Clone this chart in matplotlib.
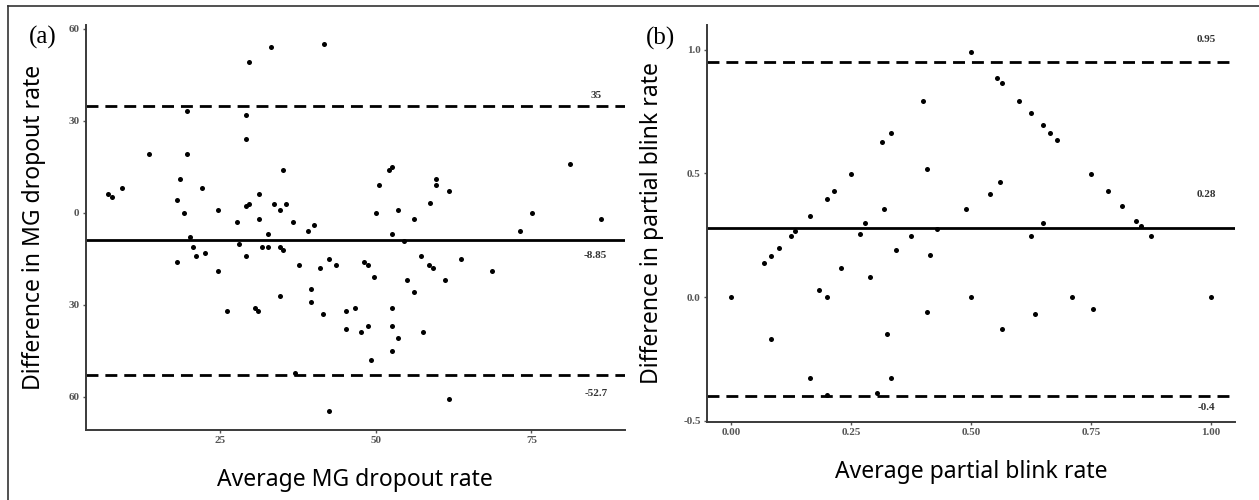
import matplotlib
matplotlib.use("Agg")
import matplotlib.pyplot as plt
from matplotlib.lines import Line2D

# ---------------- data: panel (a) ----------------
a_avg = [33.2, 29.7, 41.7, 19.7, 29.2, 29.2, 13.7, 19.7, 35.2, 18.7,
         7.1, 7.7, 9.3, 22.2, 31.3, 18.2, 19.2, 24.7, 29.2, 29.7,
         33.7, 35.7, 34.7, 27.7, 31.3, 36.7, 39.2, 40.1, 20.2, 32.7,
         28.1, 20.7, 31.7, 32.7, 21.2, 22.7, 18.2, 24.7, 29.2, 34.7,
         35.1, 37.7, 41.0, 42.6, 43.6, 48.1, 48.7, 49.7, 34.7, 39.7,
         39.7, 41.6, 26.2, 30.7, 31.2, 45.2, 46.7, 45.2, 47.6, 48.7,
         52.6, 52.6, 53.6, 57.6, 52.7, 49.2, 50.1, 50.6, 52.1, 52.7,
         53.6, 52.6, 54.6, 56.1, 57.2, 55.1, 56.2, 58.7, 59.7, 59.7,
         58.6, 59.2, 61.7, 81.1, 75.1, 73.1, 86.1, 63.7, 61.1, 68.6,
         61.7, 42.6, 37.0]
a_diff = [54.2, 49.1, 55.1, 33.2, 32.0, 24.1, 19.1, 19.1, 14.0, 11.0,
          6.2, 5.1, 8.1, 8.1, 6.2, 4.1, 0.1, 1.1, 2.1, 3.0,
          3.0, 3.0, 1.1, -2.9, -2.0, -2.9, -6.0, -4.0, -8.0, -7.0,
          -10.0, -11.0, -11.0, -11.0, -14.0, -13.0, -16.0, -19.0, -14.0, -11.0,
          -12.1, -17.0, -18.0, -15.0, -17.0, -16.0, -17.1, -21.0, -27.0, -24.9,
          -29.0, -32.9, -32.0, -30.9, -32.0, -32.0, -30.9, -37.9, -38.9, -36.9,
          -31.0, -36.9, -40.9, -38.9, -45.0, -47.9, 0.1, 9.1, 14.1, 15.1,
          1.1, -7.0, -9.0, -2.0, -14.0, -21.9, -25.9, 3.1, 11.1, 9.1,
          -17.0, -18.0, 7.1, 16.0, 0.1, -6.0, -2.0, -15.0, -21.9, -19.0,
          -60.7, -64.6, -52.1]
a_mean = -8.85
a_loa = [35, -52.7]
a_line_labels = ["35", "-8.85", "-52.7"]
a_yticks = [60, 30, 0, -30, -60]
a_yticklabels = ["60", "30", "0", "30", "60"]
a_xticks = [25, 50, 75]
a_xticklabels = ["25", "50", "75"]

# ---------------- data: panel (b) ----------------
b_avg = [0.00, 0.068, 0.084, 0.099, 0.124, 0.134, 0.164, 0.199, 0.214, 0.249,
         0.314, 0.334, 0.399, 0.409, 0.319, 0.279, 0.269, 0.374, 0.429, 0.344,
         0.414, 0.229, 0.289, 0.183, 0.199, 0.499, 0.409, 0.084, 0.324, 0.165,
         0.334, 0.304, 0.199, 0.489, 0.540, 0.561, 0.624, 0.649, 0.499, 0.554,
         0.565, 0.599, 0.624, 0.649, 0.664, 0.679, 0.750, 0.785, 0.814, 0.844,
         0.854, 0.874, 0.565, 0.634, 0.710, 0.754, 1.000]
b_diff = [0.00, 0.138, 0.168, 0.198, 0.248, 0.266, 0.327, 0.396, 0.427, 0.497,
          0.625, 0.665, 0.794, 0.516, 0.357, 0.298, 0.256, 0.248, 0.277, 0.190,
          0.169, 0.119, 0.080, 0.029, 0.00, 0.00, -0.060, -0.168, -0.149, -0.327,
          -0.327, -0.388, -0.396, 0.357, 0.417, 0.467, 0.248, 0.298, 0.992, 0.884,
          0.864, 0.794, 0.745, 0.695, 0.665, 0.636, 0.497, 0.427, 0.367, 0.306,
          0.286, 0.248, -0.129, -0.070, 0.00, -0.050, 0.00]
b_mean = 0.28
b_loa = [0.95, -0.4]
b_line_labels = ["0.95", "0.28", "-0.4"]
b_yticks = [-0.5, 0.0, 0.5, 1.0]
b_yticklabels = ["-0.5", "0.0", "0.5", "1.0"]
b_xticks = [0.00, 0.25, 0.50, 0.75, 1.00]
b_xticklabels = ["0.00", "0.25", "0.50", "0.75", "1.00"]

W, H = 1259, 500
fig = plt.figure(figsize=(W / 100, H / 100), dpi=100)
fig.patch.set_facecolor("white")

def px_rect(l, r, t, b):
    return [l / W, 1 - b / H, (r - l) / W, (b - t) / H]

axA = fig.add_axes(px_rect(85.7, 625, 25, 430))
axB = fig.add_axes(px_rect(707, 1235, 25, 422))

spine_col = "#3a3a3a"
tick_col = "#555555"
label_font = ["Noto Sans", "DejaVu Sans"]
serif = ["Liberation Serif", "DejaVu Serif"]

def style(ax):
    for s in ["top", "right"]:
        ax.spines[s].set_visible(False)
    for s in ["left", "bottom"]:
        ax.spines[s].set_color(spine_col)
        ax.spines[s].set_linewidth(1.4)
    ax.tick_params(axis="both", length=2.5, width=1.0, color=tick_col, pad=2,
                   labelcolor=tick_col)
    for lab in ax.get_xticklabels() + ax.get_yticklabels():
        lab.set_fontfamily(serif)
        lab.set_fontweight("bold")
        lab.set_fontsize(8)

dash = (4.3, 2.5)

# panel (a)
axA.scatter(a_avg, a_diff, s=13, color="black", linewidths=0, zorder=3)
axA.axhline(a_mean, color="black", lw=2.0, zorder=2)
for v in a_loa:
    axA.axhline(v, color="black", lw=2.0, dashes=dash, zorder=2)
axA.set_xlim(3.5, 90)
axA.set_ylim(-70.8, 61.3)
axA.set_xticks(a_xticks)
axA.set_xticklabels(a_xticklabels)
axA.set_yticks(a_yticks)
axA.set_yticklabels(a_yticklabels)
style(axA)
a_vals = [a_loa[0], a_mean, a_loa[1]]
a_offs = [7, -11, -13.5]
for v, t, o in zip(a_vals, a_line_labels, a_offs):
    axA.annotate(t, xy=(85.3, v), xytext=(0, o), textcoords="offset points",
                 ha="center", va="center", fontsize=8, fontweight="bold",
                 family=serif, color="#333333")
axA.set_xlabel("Average MG dropout rate", fontsize=16.5, family=label_font)
axA.set_ylabel("Difference in MG dropout rate", fontsize=16.5, family=label_font)
axA.xaxis.set_label_coords(0.5, -0.094)
axA.yaxis.set_label_coords(-0.0736, 0.5)

# panel (b)
axB.scatter(b_avg, b_diff, s=13, color="black", linewidths=0, zorder=3)
axB.axhline(b_mean, color="black", lw=2.0, zorder=2)
for v in b_loa:
    axB.axhline(v, color="black", lw=2.0, dashes=dash, zorder=2)
axB.set_xlim(-0.05, 1.05)
axB.set_ylim(-0.505, 1.1)
axB.set_xticks(b_xticks)
axB.set_xticklabels(b_xticklabels)
axB.set_yticks(b_yticks)
axB.set_yticklabels(b_yticklabels)
style(axB)
b_vals = [b_loa[0], b_mean, b_loa[1]]
b_offs = [16.5, 24, -8]
for v, t, o in zip(b_vals, b_line_labels, b_offs):
    axB.annotate(t, xy=(0.99, v), xytext=(0, o), textcoords="offset points",
                 ha="center", va="center", fontsize=8, fontweight="bold",
                 family=serif, color="#333333")
axB.set_xlabel("Average partial blink rate", fontsize=16.5, family=label_font)
axB.set_ylabel("Difference in partial blink rate", fontsize=16.5, family=label_font)
axB.xaxis.set_label_coords(0.5, -0.096)
axB.yaxis.set_label_coords(-0.081, 0.5)

# panel letters
fig.text(29 / W, 1 - 37 / H, "(a)", fontsize=18, family=serif, va="center", ha="left")
fig.text(646 / W, 1 - 38 / H, "(b)", fontsize=18, family=serif, va="center", ha="left")

# figure frame (top and left visible)
fig.add_artist(Line2D([8 / W, 1.0], [1 - 6 / H, 1 - 6 / H], color="#333333", lw=1.2,
                      transform=fig.transFigure))
fig.add_artist(Line2D([8 / W, 8 / W], [1 - 6 / H, 0.0], color="#333333", lw=1.2,
                      transform=fig.transFigure))

fig.savefig("out.png", dpi=100, facecolor="white")
